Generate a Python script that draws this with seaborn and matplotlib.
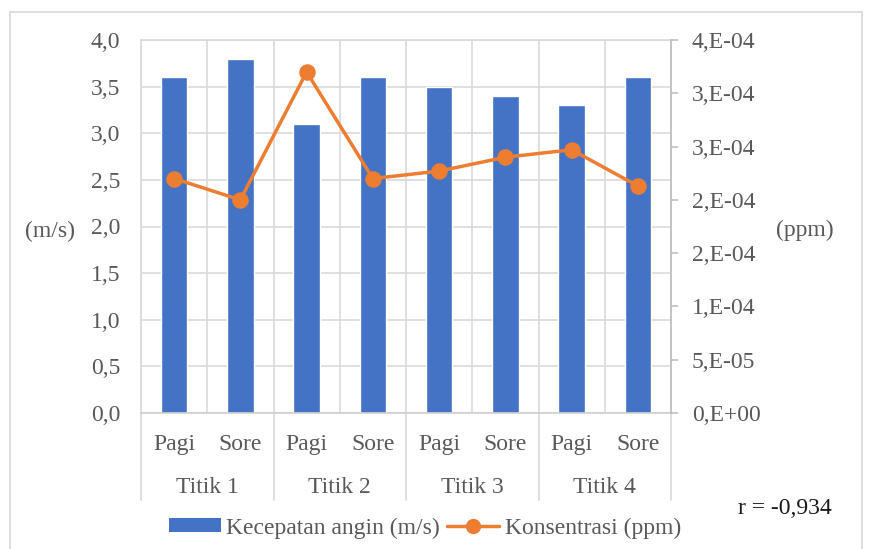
import matplotlib
matplotlib.use("Agg")
import matplotlib.pyplot as plt
import matplotlib.transforms as mtransforms
from matplotlib.patches import Patch, Rectangle
from matplotlib.lines import Line2D
import numpy as np
import pandas as pd
import seaborn as sns

sns.set_style("white")
plt.rcParams["font.family"] = ["Liberation Serif", "DejaVu Serif"]
plt.rcParams["font.size"] = 17

# data
titik = ["Titik 1", "Titik 2", "Titik 3", "Titik 4"]
waktu = ["Pagi", "Sore"]
kecepatan = [3.6, 3.8, 3.1, 3.6, 3.5, 3.4, 3.3, 3.6]
konsentrasi = [2.20e-4, 2.00e-4, 3.20e-4, 2.20e-4, 2.27e-4, 2.40e-4, 2.47e-4, 2.13e-4]
left_ticks = [0, 0.5, 1.0, 1.5, 2.0, 2.5, 3.0, 3.5, 4.0]
left_labels = ["0,0", "0,5", "1,0", "1,5", "2,0", "2,5", "3,0", "3,5", "4,0"]
right_ticks = [0, 5e-5, 1e-4, 1.5e-4, 2e-4, 2.5e-4, 3e-4, 3.5e-4]
right_labels = ["0,E+00", "5,E-05", "1,E-04", "2,E-04", "2,E-04", "3,E-04", "3,E-04", "4,E-04"]
r_text = "r = -0,934"

cats = [f"{t} {w}" for t in titik for w in waktu]
df = pd.DataFrame({"kat": cats, "kecepatan": kecepatan, "konsentrasi": konsentrasi})

BLUE = "#4472C4"
ORANGE = "#ED7D31"
GRID = "#d9d9d9"
TXT = "#595959"

fig = plt.figure(figsize=(8.69, 5.49), dpi=100)
W, H = 869, 549
ax = fig.add_axes([141 / W, 1 - 413 / H, 530 / W, 373 / H])

# chart border
fig.patches.append(Rectangle((10 / W, -0.05), 852 / W, 1 - 12 / H + 0.05,
                             transform=fig.transFigure, fill=False,
                             edgecolor=GRID, lw=1.2))

sns.barplot(data=df, x="kat", y="kecepatan", order=cats, color=BLUE,
            width=0.4, saturation=1, ax=ax, zorder=2)
ax.set_ylim(0, 4)
ax.set_xlim(-0.5, len(cats) - 0.5)
ax.set_yticks(left_ticks)
ax.set_yticklabels(left_labels, color=TXT)
ax.set_xticks(range(len(cats)))
ax.set_xticklabels(waktu * len(titik), color=TXT)
ax.set_xticks(np.arange(-0.5, len(cats)), minor=True)
ax.tick_params(axis="y", length=0, pad=15)
ax.tick_params(axis="x", which="both", length=0, pad=15)
ax.grid(axis="y", color=GRID, lw=1.2, zorder=0)
ax.grid(axis="x", which="minor", color=GRID, lw=1.2, zorder=0)
ax.set_axisbelow(True)
ax.set_xlabel("")
ax.set_ylabel("")
for s in ax.spines.values():
    s.set_color(GRID)
    s.set_linewidth(1.2)
ax.spines["bottom"].set_color("#cfcfcf")

# group labels and separators under the axis
trans = mtransforms.blended_transform_factory(ax.transData, ax.transAxes)
for i, t in enumerate(titik):
    ax.text(2 * i + 0.5, -0.2, t, transform=trans, ha="center", va="center",
            color=TXT)
for b in np.arange(-0.5, len(cats), 2):
    ax.plot([b, b], [0, -0.233], transform=trans, color=GRID, lw=1.2,
            clip_on=False)

ax2 = ax.twinx()
sns.pointplot(data=df, x="kat", y="konsentrasi", order=cats, color=ORANGE,
              markers="o", markersize=10, linewidth=2.5, ax=ax2, zorder=3)
ax2.set_ylim(0, 3.5e-4)
ax2.set_yticks(right_ticks)
ax2.set_yticklabels(right_labels, color=TXT)
ax2.tick_params(axis="y", direction="out", length=5, width=1.2,
                color="#bfbfbf", pad=10)
ax2.set_ylabel("")
ax2.set_xlabel("")
for k, s in ax2.spines.items():
    s.set_visible(k == "right")
ax2.spines["right"].set_color("#bfbfbf")
ax2.spines["right"].set_linewidth(1.2)

fig.text(49.5 / W, 1 - 231 / H, "(m/s)", ha="center", va="center", color=TXT)
fig.text(805 / W, 1 - 230 / H, "(ppm)", ha="center", va="center", color=TXT)
fig.text(832 / W, 1 - 508 / H, r_text, ha="right", va="center", color="#1a1a1a")

handles = [Patch(facecolor=BLUE, edgecolor="none"),
           Line2D([], [], color=ORANGE, lw=2.5, marker="o", markersize=10)]
fig.legend(handles, ["Kecepatan angin (m/s)", "Konsentrasi (ppm)"],
           loc="center", bbox_to_anchor=(425 / W, 1 - 528 / H), ncol=2,
           frameon=False, handlelength=2.2, handleheight=0.5,
           handletextpad=0.25, columnspacing=0.3, labelcolor=TXT,
           borderaxespad=0, borderpad=0)

fig.savefig("out.png", dpi=100)
